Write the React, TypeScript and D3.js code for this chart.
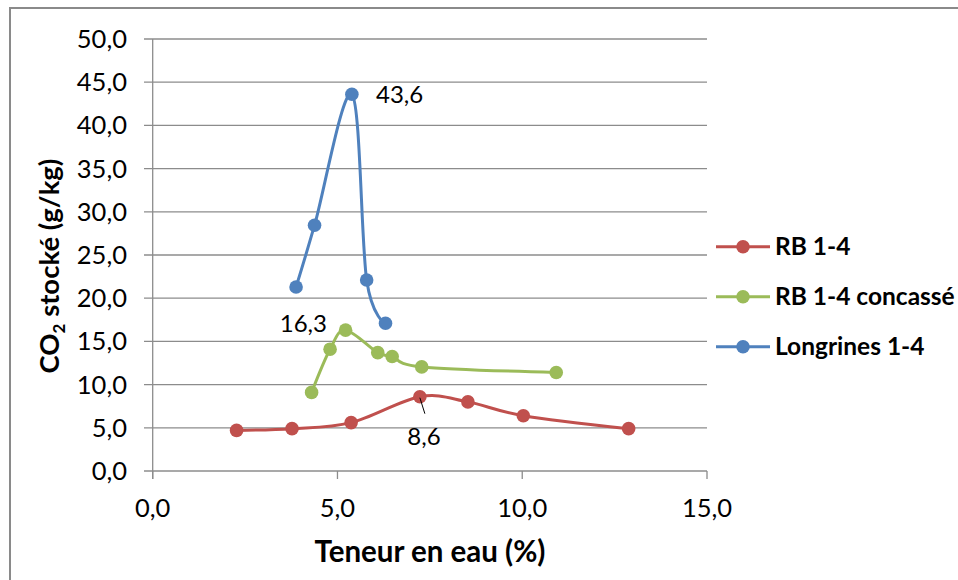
import React from "react";
import * as d3 from "d3";

const rbX = [2.27, 3.77, 5.37, 7.23, 8.53, 10.03, 12.88];
const rbY = [4.7, 4.9, 5.6, 8.6, 8.0, 6.4, 4.9];
const concX = [4.3, 4.8, 5.22, 6.09, 6.48, 7.28, 10.92];
const concY = [9.1, 14.1, 16.3, 13.7, 13.25, 12.05, 11.4];
const longX = [3.88, 4.38, 5.39, 5.79, 6.3];
const longY = [21.3, 28.45, 43.6, 22.1, 17.1];

const seriesNames = ["RB 1-4", "RB 1-4 concassé", "Longrines 1-4"];
const seriesColors = ["#C0504D", "#9BBB59", "#4F81BD"];
const xTicks = [0, 5, 10, 15];
const yTicks = [0, 5, 10, 15, 20, 25, 30, 35, 40, 45, 50];

const FONT = "Lato, 'Open Sans', sans-serif";
const fmt = (v: number) => v.toFixed(1).replace(".", ",");

export default function App() {
  const W = 958, H = 580;
  const x = d3.scaleLinear().domain([0, 15]).range([152.7, 707]);
  const y = d3.scaleLinear().domain([0, 50]).range([471, 39]);
  const line = d3
    .line<[number, number]>()
    .x((d) => x(d[0]))
    .y((d) => y(d[1]))
    .curve(d3.curveCardinal.tension(0));

  const series = [
    { xs: rbX, ys: rbY },
    { xs: concX, ys: concY },
    { xs: longX, ys: longY },
  ];

  const gridColor = "#8C8C8C";
  const tickFs = 25.5;
  const labelFs = 24;

  return (
    <svg
      width={W}
      height={H}
      style={{ position: "absolute", left: 0, top: 0, background: "#fff" }}
      fontFamily={FONT}
    >
      <rect x={10} y={8} width={1000} height={640} fill="#fff" stroke="#8A8A8A" strokeWidth={2} />
      {/* gridlines */}
      {yTicks.map((t) => (
        <line key={"g" + t} x1={144} x2={707} y1={y(t)} y2={y(t)} stroke={gridColor} strokeWidth={1.3} />
      ))}
      <line x1={x(0)} x2={x(0)} y1={y(50)} y2={y(0) + 8} stroke={gridColor} strokeWidth={1.3} />
      {xTicks.map((t) => (
        <line key={"xt" + t} x1={x(t)} x2={x(t)} y1={y(0)} y2={y(0) + 8} stroke={gridColor} strokeWidth={1.3} />
      ))}
      {yTicks.map((t) => (
        <text key={"yl" + t} x={127} y={y(t)} dy="0.35em" textAnchor="end" fontSize={tickFs} fill="#000">
          {fmt(t)}
        </text>
      ))}
      {xTicks.map((t) => (
        <text key={"xl" + t} x={x(t)} y={508} dy="0.35em" textAnchor="middle" fontSize={tickFs} fill="#000">
          {fmt(t)}
        </text>
      ))}
      {/* axis titles */}
      <text x={430} y={562} textAnchor="middle" fontSize={29.5} fontWeight="bold" fill="#000">
        Teneur en eau (%)
      </text>
      <text
        transform={`translate(59,266) rotate(-90)`}
        textAnchor="middle"
        fontSize={27.5}
        fontWeight="bold"
        fill="#000"
      >
        CO<tspan fontSize={17} dy={6}>2</tspan>
        <tspan dy={-6}> stocké (g/kg)</tspan>
      </text>
      {/* series */}
      {series.map((s, i) => {
        const pts: [number, number][] = s.xs.map((v, j) => [v, s.ys[j]]);
        return (
          <g key={"s" + i}>
            <path d={line(pts) || ""} fill="none" stroke={seriesColors[i]} strokeWidth={3} />
            {pts.map((p, j) => (
              <circle key={j} cx={x(p[0])} cy={y(p[1])} r={6.8} fill={seriesColors[i]} />
            ))}
          </g>
        );
      })}
      {/* data labels */}
      <text x={376} y={y(43.6)} dy="0.35em" fontSize={labelFs} fill="#000">
        {fmt(longY[2])}
      </text>
      <text x={327} y={324} dy="0.35em" textAnchor="end" fontSize={labelFs} fill="#000">
        {fmt(concY[2])}
      </text>
      <line x1={x(rbX[3])} y1={y(rbY[3]) + 1} x2={x(rbX[3]) + 5} y2={y(rbY[3]) + 17} stroke="#000" strokeWidth={1} />
      <text x={424} y={437} dy="0.35em" textAnchor="middle" fontSize={labelFs} fill="#000">
        {fmt(rbY[3])}
      </text>
      {/* legend */}
      {seriesNames.map((n, i) => {
        const ly = 246.7 + i * 50;
        return (
          <g key={"l" + i}>
            <line x1={716} x2={770} y1={ly} y2={ly} stroke={seriesColors[i]} strokeWidth={3} />
            <circle cx={743} cy={ly} r={6.8} fill={seriesColors[i]} />
            <text x={775} y={ly} dy="0.35em" fontSize={24.5} fontWeight="bold" fill="#000">
              {n}
            </text>
          </g>
        );
      })}
    </svg>
  );
}
